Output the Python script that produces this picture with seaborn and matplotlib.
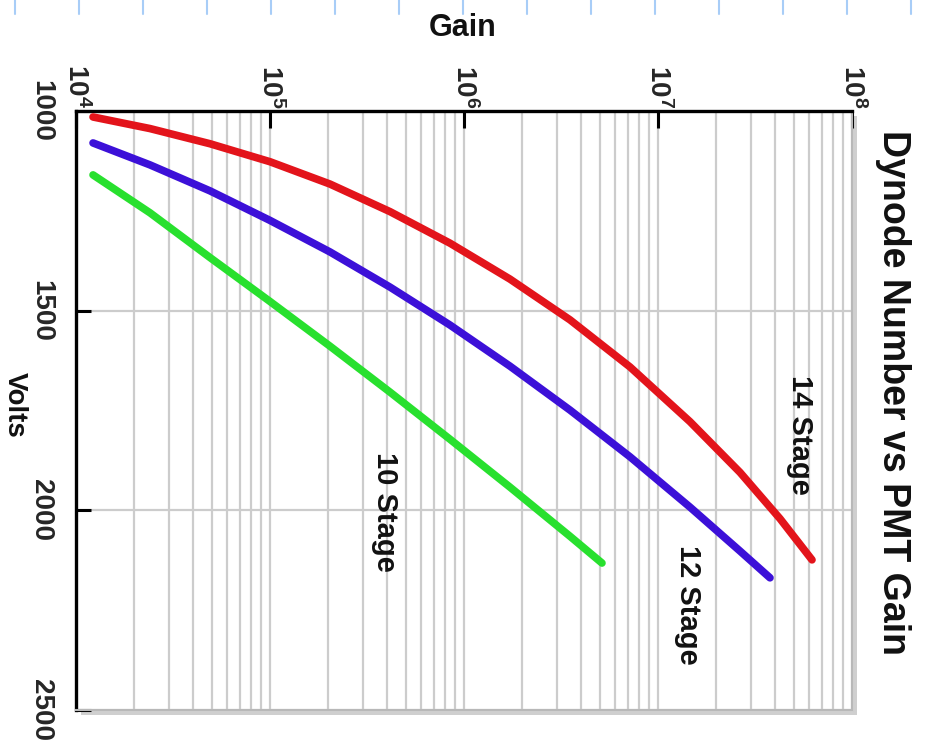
import numpy as np
import pandas as pd
import seaborn as sns
import matplotlib.pyplot as plt
from matplotlib.lines import Line2D
from matplotlib.patches import Rectangle
from matplotlib.ticker import LogLocator, NullFormatter

OUTPUT_IMAGE = 'out.png'

# Gain / volts
gain_14 = [1.224e4, 2.407e4, 4.906e4, 1.0e5, 2.039e5, 4.155e5, 8.468e5, 1.726e6,
           3.519e6, 7.173e6, 1.462e7, 2.647e7, 4.256e7, 6.221e7]
volts_14 = [1015, 1044, 1082, 1127, 1183, 1252, 1331, 1421,
            1523, 1641, 1778, 1905, 2021, 2124]

gain_12 = [1.224e4, 2.407e4, 4.906e4, 1.0e5, 2.039e5, 4.155e5, 8.468e5, 1.726e6,
           3.519e6, 7.173e6, 1.462e7, 2.647e7, 3.778e7]
volts_12 = [1080, 1135, 1200, 1274, 1353, 1441, 1536, 1639,
            1749, 1866, 1992, 2102, 2169]

gain_10 = [1.224e4, 2.407e4, 4.906e4, 1.0e5, 2.039e5, 4.155e5, 8.468e5, 1.726e6,
           3.519e6, 5.143e6]
volts_10 = [1160, 1255, 1367, 1477, 1589, 1704, 1822, 1942, 2065, 2132]

stages = ['14 Stage', '12 Stage', '10 Stage']
colors = {'14 Stage': '#e3141b', '12 Stage': '#3c10d8', '10 Stage': '#28e02e'}
label_pos = {'14 Stage': (5.4e7, 1811), '12 Stage': (1.43e7, 2237), '10 Stage': (3.92e5, 2004)}

gain_ticks = [1e4, 1e5, 1e6, 1e7, 1e8]
gain_ticklabels = [r'$10^{4}$', r'$10^{5}$', r'$10^{6}$', r'$10^{7}$', r'$10^{8}$']
volt_ticks = [1000, 1500, 2000, 2500]

frames = []
for name, g, v in zip(stages, [gain_14, gain_12, gain_10], [volts_14, volts_12, volts_10]):
    frames.append(pd.DataFrame({'gain': g, 'volts': v, 'stage': name}))
df = pd.concat(frames, ignore_index=True)

sns.set_theme(style='white')
plt.rcParams['font.family'] = ['Liberation Sans', 'DejaVu Sans']
plt.rcParams['font.weight'] = 'bold'
plt.rcParams['mathtext.fontset'] = 'custom'
plt.rcParams['mathtext.rm'] = 'Liberation Sans:bold'
plt.rcParams['mathtext.default'] = 'rm'

W, H = 926, 740
fig = plt.figure(figsize=(W / 100, H / 100), dpi=100)
x0, x1, y0, y1 = 76, 852, 111, 710
ax_rect = [x0 / W, 1 - y1 / H, (x1 - x0) / W, (y1 - y0) / H]

# soft drop shadow behind the plot frame
fig.add_artist(Rectangle((ax_rect[0] + 5 / W, ax_rect[1] - 5 / H), ax_rect[2], ax_rect[3],
                         transform=fig.transFigure, facecolor='#cfcfcf', edgecolor='none', zorder=0))
ax = fig.add_axes(ax_rect)
ax.set_zorder(1)

ax.set_xscale('log')
sns.lineplot(data=df, x='gain', y='volts', hue='stage', palette=colors,
             linewidth=5.5, legend=False, ax=ax, zorder=3)
for line in ax.lines:
    line.set_solid_capstyle('round')
    line.set_solid_joinstyle('round')

ax.set_xlim(1e4, 1e8)
ax.set_ylim(2500, 1000)

ax.xaxis.tick_top()
ax.set_xticks(gain_ticks)
ax.set_xticklabels(gain_ticklabels)
ax.xaxis.set_minor_locator(LogLocator(base=10, subs=np.arange(2, 10)))
ax.xaxis.set_minor_formatter(NullFormatter())
ax.set_yticks(volt_ticks)
ax.set_yticklabels([str(v) for v in volt_ticks])

ax.tick_params(axis='x', which='major', direction='in', length=12, width=2.2, color='black',
               labelsize=20, labelrotation=-90, pad=2, top=True, bottom=False)
ax.tick_params(axis='x', which='minor', length=0, top=False, bottom=False)
ax.tick_params(axis='y', which='major', direction='in', length=11, width=2.2, color='black',
               labelsize=20, labelrotation=-90, pad=16, left=True)
for lbl in ax.get_yticklabels():
    lbl.set_va('center')

ax.grid(True, axis='x', which='both', color='#cccccc', linewidth=1.6)
ax.grid(True, axis='y', which='major', color='#cccccc', linewidth=1.6)
ax.set_axisbelow(True)

for side in ['left', 'top']:
    ax.spines[side].set_color('black')
    ax.spines[side].set_linewidth(2.4)
for side in ['right', 'bottom']:
    ax.spines[side].set_color('#b8b8b8')
    ax.spines[side].set_linewidth(1.5)

ax.set_xlabel('')
ax.set_ylabel('')

for name in stages:
    gx, vy = label_pos[name]
    ax.text(gx, vy, name, rotation=-90, ha='center', va='center', fontsize=21,
            fontweight='bold', color='#111111', zorder=4)

fig.text(893 / W, 1 - 393 / H, 'Dynode Number vs PMT Gain', rotation=-90, ha='center',
         va='center', fontsize=27, fontweight='bold', color='#111111')
fig.text(463 / W, 1 - 28 / H, 'Gain', ha='center', va='center', fontsize=22,
         fontweight='bold', color='#111111')
fig.text(15 / W, 1 - 405 / H, 'Volts', rotation=-90, ha='center', va='center', fontsize=20,
         fontweight='bold', color='#111111')

# light blue ruler marks along the top edge of the slide
for px in np.arange(15, W, 64):
    fig.add_artist(Line2D([px / W, px / W], [1.0, 1 - 14 / H], transform=fig.transFigure,
                          color='#a8cdf7', linewidth=1.5))

fig.savefig(OUTPUT_IMAGE, dpi=100)
